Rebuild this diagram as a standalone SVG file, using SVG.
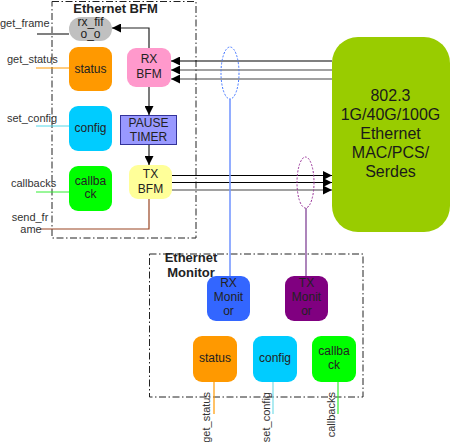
<svg xmlns="http://www.w3.org/2000/svg" width="451" height="442" viewBox="0 0 451 442">
<style>
text{font-family:"Liberation Sans",Arial,sans-serif;font-size:12px;fill:#222;text-anchor:middle}
.lbl{font-size:11px;fill:#333;text-anchor:start}
.title{font-size:13px;font-weight:bold;fill:#222}
.mac{font-size:16px;fill:#1a1a1a}
.frame{fill:none;stroke:#222;stroke-width:1;stroke-dasharray:7,2.5,1.5,2.5}
.bus{stroke:#000;stroke-width:1.2;fill:none}
.bus2{stroke:#444;stroke-width:1.2;fill:none}
.arr{stroke:#222;stroke-width:1.2;fill:none}
</style>
<defs>
<marker id="ah" viewBox="0 0 10 10" refX="10" refY="5" markerWidth="9" markerHeight="9" markerUnits="userSpaceOnUse" orient="auto">
<path d="M0,0 L10,5 L0,10 Z" fill="#000"/>
</marker>
<marker id="ah2" viewBox="0 0 10 10" refX="10" refY="5" markerWidth="10" markerHeight="9" markerUnits="userSpaceOnUse" orient="auto">
<path d="M0,0 L10,5 L0,10 Z" fill="#000"/>
</marker>
</defs>

<g id="bfm-frame">
<rect class="frame" x="52" y="1.5" width="144" height="236.5"/>
<text class="title" x="115.5" y="13">Ethernet BFM</text>
</g>
<g id="mon-frame">
<rect class="frame" x="149.5" y="254" width="213.5" height="143"/>
<text class="title" x="191" y="262">Ethernet</text>
<text class="title" x="191" y="277">Monitor</text>
</g>

<g id="connectors">
<line x1="37" y1="34" x2="69" y2="34" stroke="#808080" stroke-width="2"/>
<line x1="36" y1="68" x2="69" y2="68" stroke="#FF9900" stroke-width="1"/>
<line x1="36" y1="126" x2="69" y2="126" stroke="#55D8E8" stroke-width="1"/>
<line x1="36" y1="192" x2="69" y2="192" stroke="#33EE33" stroke-width="1"/>
<polyline points="40,229 149,229 149,199" stroke="#994422" stroke-width="1.2" fill="none"/>
<polyline class="arr" points="149,48 149,28 112,28" marker-end="url(#ah)"/>
<line class="arr" x1="149" y1="87" x2="149" y2="115" marker-end="url(#ah)"/>
<line class="arr" x1="149" y1="144" x2="149" y2="165" marker-end="url(#ah)"/>
<line class="bus" x1="332" y1="61" x2="171" y2="61" marker-end="url(#ah2)"/>
<line class="bus2" x1="332" y1="70" x2="171" y2="70" marker-end="url(#ah2)"/>
<line class="bus2" x1="332" y1="79" x2="171" y2="79" marker-end="url(#ah2)"/>
<line class="bus" x1="172" y1="175.5" x2="332" y2="175.5" marker-end="url(#ah2)"/>
<line class="bus" x1="172" y1="182.5" x2="332" y2="182.5" marker-end="url(#ah2)"/>
<line class="bus2" x1="172" y1="190" x2="332" y2="190" marker-end="url(#ah2)"/>
<ellipse cx="230" cy="73" rx="9" ry="26" fill="none" stroke="#4477FF" stroke-width="1" stroke-dasharray="2,1.5"/>
<line x1="230" y1="99" x2="230" y2="276" stroke="#7799FF" stroke-width="1.6"/>
<ellipse cx="305.5" cy="182.5" rx="8.5" ry="25.5" fill="none" stroke="#993399" stroke-width="1" stroke-dasharray="2,1.5"/>
<line x1="306" y1="208" x2="306" y2="276" stroke="#9966AA" stroke-width="1.6"/>
<line x1="214" y1="382" x2="214" y2="414" stroke="#FF9900" stroke-width="1.2"/>
<line x1="273" y1="382" x2="273" y2="414" stroke="#77DDE8" stroke-width="1.2"/>
<line x1="338" y1="382" x2="338" y2="414" stroke="#33EE33" stroke-width="1.2"/>
</g>

<g id="labels">
<text class="lbl" x="0" y="27">get_frame</text>
<text class="lbl" x="7" y="63">get_status</text>
<text class="lbl" x="7" y="122">set_config</text>
<text class="lbl" x="11" y="187">callbacks</text>
<text class="lbl" x="30" y="221" style="text-anchor:middle">send_fr</text>
<text class="lbl" x="31" y="233" style="text-anchor:middle">ame</text>
<text class="lbl" transform="translate(210,392) rotate(-90)" style="text-anchor:end">get_status</text>
<text class="lbl" transform="translate(270,392) rotate(-90)" style="text-anchor:end">set_config</text>
<text class="lbl" transform="translate(335,392) rotate(-90)" style="text-anchor:end">callbacks</text>
</g>

<g id="rx_fifo">
<rect x="69" y="17" width="43" height="24" rx="12" fill="#C0C0C0"/>
<text x="90.5" y="25.5">rx_fif</text>
<text x="90.5" y="38">o_o</text>
</g>
<g id="bfm-status">
<rect x="69" y="47" width="43" height="44" rx="9" fill="#FF9900"/>
<text x="90.5" y="73">status</text>
</g>
<g id="bfm-config">
<rect x="69" y="106" width="43" height="45" rx="9" fill="#00CCFF"/>
<text x="90.5" y="132">config</text>
</g>
<g id="bfm-callback">
<rect x="69" y="166" width="43" height="45" rx="9" fill="#00FF00"/>
<text x="90.5" y="185">callba</text>
<text x="90.5" y="198">ck</text>
</g>
<g id="rx-bfm">
<rect x="127" y="48" width="44" height="39" rx="9" fill="#FF99CC"/>
<text x="149" y="63">RX</text>
<text x="149" y="78">BFM</text>
</g>
<g id="pause-timer">
<rect x="120.5" y="115.5" width="56" height="29" fill="#9999FF" stroke="#333399" stroke-width="1"/>
<text x="148.5" y="127">PAUSE</text>
<text x="148.5" y="141">TIMER</text>
</g>
<g id="tx-bfm">
<rect x="129" y="165" width="43" height="34" rx="9" fill="#FFFF99"/>
<text x="150.5" y="178">TX</text>
<text x="150.5" y="193">BFM</text>
</g>
<g id="mac">
<rect x="332" y="37" width="118" height="195" rx="26" fill="#99CC00"/>
<text class="mac" x="390.5" y="101">802.3</text>
<text class="mac" x="390.5" y="120">1G/40G/100G</text>
<text class="mac" x="390.5" y="139">Ethernet</text>
<text class="mac" x="390.5" y="158">MAC/PCS/</text>
<text class="mac" x="390.5" y="177">Serdes</text>
</g>
<g id="rx-monitor">
<rect x="207" y="276" width="43" height="45" rx="9" fill="#3366FF"/>
<text x="228.5" y="287">RX</text>
<text x="228.5" y="301">Monit</text>
<text x="228.5" y="315">or</text>
</g>
<g id="tx-monitor">
<rect x="285" y="276" width="43" height="45" rx="9" fill="#800080"/>
<text x="306.5" y="287">TX</text>
<text x="306.5" y="301">Monit</text>
<text x="306.5" y="315">or</text>
</g>
<g id="mon-status">
<rect x="193" y="336" width="44" height="46" rx="9" fill="#FF9900"/>
<text x="215" y="362">status</text>
</g>
<g id="mon-config">
<rect x="253" y="336" width="44" height="46" rx="9" fill="#00CCFF"/>
<text x="275" y="362">config</text>
</g>
<g id="mon-callback">
<rect x="312" y="336" width="44" height="46" rx="9" fill="#00FF00"/>
<text x="334" y="355">callba</text>
<text x="334" y="369">ck</text>
</g>
</svg>
